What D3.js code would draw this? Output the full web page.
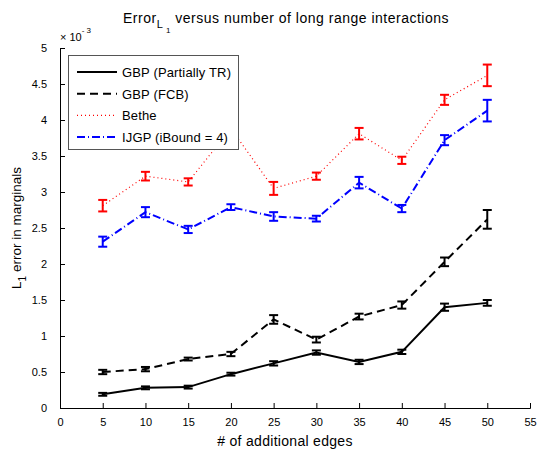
<!DOCTYPE html>
<html><head><meta charset="utf-8">
<script src="https://cdn.jsdelivr.net/npm/d3@7"></script>
<style>body{margin:0;background:#fff}svg{display:block;font-family:"Liberation Sans",Arial,sans-serif}</style>
</head><body>
<svg id="c" width="539" height="451"></svg>
<script>
const edges = [5,10,15,20,25,30,35,40,45,50];
const xTicks = [0,5,10,15,20,25,30,35,40,45,50,55];
const yTicks = [0,0.5,1,1.5,2,2.5,3,3.5,4,4.5,5];
const seriesNames = ["GBP (Partially TR)","GBP (FCB)","Bethe","IJGP (iBound = 4)"];
// values in units of 1e-3
const gbpTR    = [0.19,0.28,0.29,0.47,0.62,0.77,0.64,0.78,1.40,1.46];
const gbpTRErr = [0.02,0.02,0.02,0.02,0.03,0.03,0.03,0.03,0.05,0.04];
const gbpFCB    = [0.50,0.54,0.68,0.75,1.23,0.95,1.27,1.43,2.03,2.62];
const gbpFCBErr = [0.03,0.03,0.02,0.03,0.06,0.04,0.04,0.05,0.06,0.13];
const bethe    = [2.81,3.22,3.14,3.88,3.05,3.22,3.81,3.44,4.28,4.62];
const betheErr = [0.08,0.06,0.05,0.05,0.09,0.05,0.08,0.05,0.07,0.15];
const ijgp    = [2.31,2.72,2.48,2.79,2.66,2.63,3.13,2.77,3.72,4.13];
const ijgpErr = [0.07,0.07,0.05,0.04,0.06,0.04,0.08,0.05,0.07,0.15];

const svg = d3.select("#c");
const m = {l:60, r:530, t:48, b:408};
const x = d3.scaleLinear().domain([0,55]).range([m.l, m.r]);
const y = d3.scaleLinear().domain([0,5]).range([m.b, m.t]);

// axes
const xa = svg.append("g").attr("transform",`translate(0,${m.b})`)
  .call(d3.axisBottom(x).tickValues(xTicks).tickSize(-5).tickPadding(10).tickFormat(d3.format("d")));
const ya = svg.append("g").attr("transform",`translate(${m.l},0)`)
  .call(d3.axisLeft(y).tickValues(yTicks).tickSize(-5).tickPadding(13).tickFormat(d=>String(d)));
[xa,ya].forEach(g=>{
  g.selectAll("path").attr("stroke","#000").attr("stroke-width",1);
  g.selectAll("line").attr("stroke","#000");
  g.selectAll("text").attr("font-size",11).attr("fill","#000").attr("font-family","Liberation Sans, Arial, sans-serif");
});

const series = [
  {v:gbpTR, e:gbpTRErr, color:"#000", dash:null, w:2},
  {v:gbpFCB, e:gbpFCBErr, color:"#000", dash:"8,5", w:2},
  {v:bethe, e:betheErr, color:"#f00", dash:"1,3", w:1.2},
  {v:ijgp, e:ijgpErr, color:"#00f", dash:"8,3,1,3", w:2},
];
const line = d3.line().x((d,i)=>x(edges[i])).y(d=>y(d));
series.forEach(s=>{
  svg.append("path").datum(s.v).attr("d",line).attr("fill","none")
    .attr("stroke",s.color).attr("stroke-width",s.w).attr("stroke-dasharray",s.dash);
  const g = svg.append("g").attr("stroke",s.color).attr("stroke-width",2);
  s.v.forEach((v,i)=>{
    const cx = x(edges[i]), y1=y(v-s.e[i]), y2=y(v+s.e[i]);
    g.append("line").attr("x1",cx).attr("x2",cx).attr("y1",y1).attr("y2",y2);
    g.append("line").attr("x1",cx-4.5).attr("x2",cx+4.5).attr("y1",y1).attr("y2",y1);
    g.append("line").attr("x1",cx-4.5).attr("x2",cx+4.5).attr("y1",y2).attr("y2",y2);
  });
});

// legend
const lg = svg.append("g");
lg.append("rect").attr("x",68.5).attr("y",55.5).attr("width",170).attr("height",94)
  .attr("fill","#fff").attr("stroke","#555").attr("stroke-width",1);
series.forEach((s,i)=>{
  const yy = 72 + i*21.7;
  lg.append("line").attr("x1",77).attr("x2",117).attr("y1",yy).attr("y2",yy)
    .attr("stroke",s.color).attr("stroke-width",s.w).attr("stroke-dasharray",s.dash);
  lg.append("text").attr("x",122).attr("y",yy+5).attr("font-size",13).attr("letter-spacing",0.15).text(seriesNames[i]);
});

// exponent
const ex = svg.append("text").attr("x",60).attr("y",41).attr("font-size",11);
ex.append("tspan").text("\u00d7 10");
ex.append("tspan").attr("dy",-8).attr("font-size",8).text("- 3");

// title
const t = svg.append("text").attr("x",123).attr("y",23).attr("font-size",14).attr("letter-spacing",0.5);
t.append("tspan").text("Error");
t.append("tspan").attr("dy",5).attr("font-size",11).text("L");
t.append("tspan").attr("dy",5).attr("font-size",8).text(" 1");
t.append("tspan").attr("dy",-10).text(" versus number of long range interactions");

// x label
svg.append("text").attr("x",285).attr("y",446).attr("text-anchor","middle").attr("font-size",14).attr("letter-spacing",0.3)
  .text("# of additional edges");

// y label
const yl = svg.append("text").attr("transform","translate(21,228) rotate(-90)").attr("text-anchor","middle").attr("font-size",13.5);
yl.append("tspan").text("L");
yl.append("tspan").attr("dy",5).attr("font-size",10).text("1");
yl.append("tspan").attr("dy",-5).text(" error in marginals");
</script>
</body></html>
